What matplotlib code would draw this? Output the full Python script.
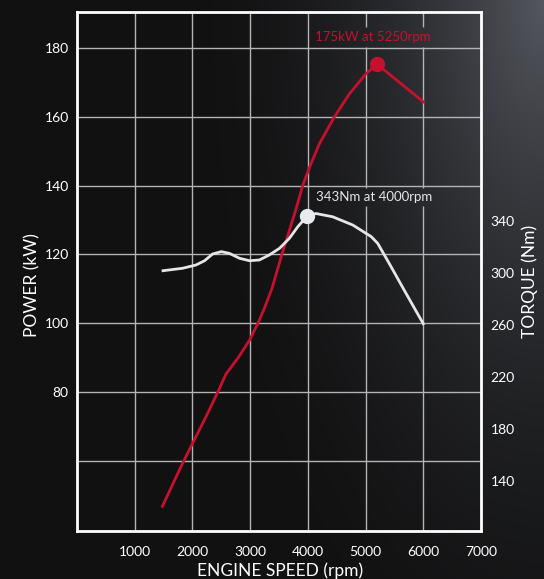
import numpy as np
import matplotlib.pyplot as plt

plt.rcParams['font.family'] = ['Lato', 'DejaVu Sans']

# power curve (kW)
power_rpm = [1480, 1830, 2000, 2240, 2440, 2580, 2790, 2990, 3130, 3250, 3380, 3550,
             3680, 3800, 3910, 4030, 4200, 4460, 4720, 5010, 5200, 6000]
power_kw = [46.8, 59.3, 65.0, 73.0, 80, 85.2, 89.9, 95.1, 99.8, 104.5, 110.2, 120,
            127, 133.5, 140, 145.4, 152.2, 160, 166.7, 172.6, 175.3, 164.4]

# torque curve (Nm)
torque_rpm = [1490, 1830, 2060, 2210, 2350, 2500, 2640, 2815, 2990, 3160, 3330, 3510,
              3680, 3825, 3985, 4140, 4430, 4780, 5100, 5210, 5410, 5700, 6000]
torque_nm = [301.9, 303.8, 306.3, 309.6, 314.8, 316.6, 315.3, 311.5, 309.6, 310.2, 314,
             319.2, 326.9, 335.8, 344, 346, 343.5, 337.1, 328.1, 323, 307.5, 284.5, 261]

peak_power = (5200, 175.3, '175kW at 5250rpm')
peak_torque = (3985, 344, '343Nm at 4000rpm')

x_ticks = [1000, 2000, 3000, 4000, 5000, 6000, 7000]
x_grid = [1000, 2000, 3000, 4000, 5000, 6000]
power_ticks = [80, 100, 120, 140, 160, 180]
power_grid = [60, 80, 100, 120, 140, 160, 180]
torque_ticks = [140, 180, 220, 260, 300, 340]

red = '#c8102e'
white = '#e6e6e6'
grid_col = '#b4b4b4'

W, H = 544, 579
ylo, yhi = 39.6, 190.5
base = np.array([0.067, 0.067, 0.070])
top = np.array([0.33, 0.34, 0.37])

fig = plt.figure(figsize=(W / 100, H / 100), dpi=100)

# dark backdrop with a grey glow coming down from the top right corner
bg = fig.add_axes([0, 0, 1, 1])
yy, xx = np.mgrid[0:1:300j, 0:1:300j]
d = np.hypot((1.0 - xx) * 1.6, (1.0 - yy) * 0.8)
glow = np.clip(1.0 - d / 1.1, 0, 1) ** 2
bg.imshow(base + glow[..., None] * (top - base), origin='lower', extent=[0, 1, 0, 1],
          aspect='auto', interpolation='bilinear')
bg.axis('off')

ax = fig.add_axes([77 / W, 48 / H, 404 / W, 519 / H])
ax.set_facecolor('none')
ax.set_xlim(0, 7000)
ax.set_ylim(ylo, yhi)

# vertical grid lines are cut where the two labels sit
gaps = [(180.3, 186.1), (134.0, 139.3)]
for g in x_grid:
    if g >= 5000:
        ax.vlines(g, ylo, gaps[1][0], color=grid_col, lw=1.0, zorder=1)
        ax.vlines(g, gaps[1][1], gaps[0][0], color=grid_col, lw=1.0, zorder=1)
        ax.vlines(g, gaps[0][1], yhi, color=grid_col, lw=1.0, zorder=1)
    else:
        ax.axvline(g, color=grid_col, lw=1.0, zorder=1)
for g in power_grid:
    ax.axhline(g, color=grid_col, lw=1.0, zorder=1)

ax.set_xticks(x_ticks)
ax.set_yticks(power_ticks)
ax.tick_params(length=0)
ax.tick_params(axis='x', colors='white', labelsize=10, pad=11)
ax.tick_params(axis='y', colors='white', labelsize=10, pad=6)
for s in ax.spines.values():
    s.set_color('white')
    s.set_linewidth(2)
    s.set_zorder(3)

ax2 = ax.twinx()
ax2.set_ylim(101.2, 501.4)
ax2.set_yticks(torque_ticks)
ax2.tick_params(length=0, colors='white', labelsize=10, pad=7)
for s in ax2.spines.values():
    s.set_visible(False)

ax.plot(power_rpm, power_kw, color=red, lw=2, zorder=5)
ax.plot(peak_power[0], peak_power[1], 'o', color=red, ms=10, zorder=6)
ax.text(5130, 183.2, peak_power[2], color=red, fontsize=9.5,
        ha='center', va='center', zorder=4)

ax2.plot(torque_rpm, torque_nm, color=white, lw=2, zorder=5)
ax2.plot(peak_torque[0], peak_torque[1], 'o', color='#e8eaee', ms=10, zorder=6)
ax2.text(4140, 359, peak_torque[2], color=white, fontsize=9.5,
         ha='left', va='center', zorder=4)

fig.text(280 / W, 1 - 571 / H, 'ENGINE SPEED (rpm)', color='white', fontsize=12.5,
         ha='center', va='center')
fig.text(32 / W, 1 - 285 / H, 'POWER (kW)', color='white', fontsize=12.5,
         ha='center', va='center', rotation=90)
fig.text(530 / W, 1 - 281 / H, 'TORQUE (Nm)', color='white', fontsize=12.5,
         ha='center', va='center', rotation=90)

fig.savefig('out.png', dpi=100)
